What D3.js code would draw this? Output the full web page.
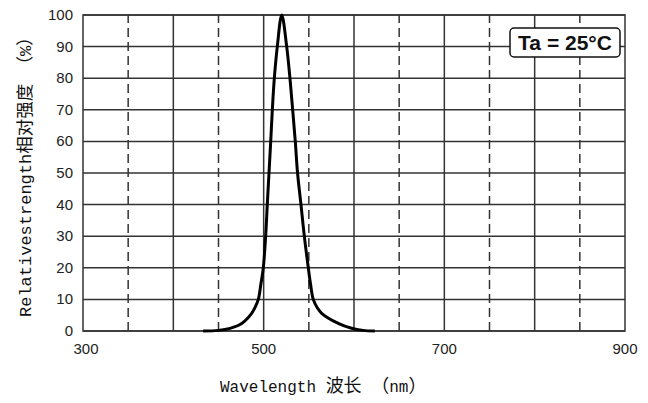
<!DOCTYPE html>
<html>
<head>
<meta charset="utf-8">
<script src="https://cdn.jsdelivr.net/npm/d3@7"></script>
<style>
  body { margin: 0; background: #fff; }
</style>
</head>
<body>
<script>
// spectrum
const wavelength = [433, 450, 462.7, 475.7, 486.7, 491, 494.1, 497, 499.6, 502.2, 504.0, 505.9, 507.8, 509.6, 511.8, 515.1, 520, 525.5, 529.1, 532.1, 535.0, 537.5, 541.3, 545.0, 549.4, 551.8, 554.9, 559.5, 564.2, 582.6, 597.4, 610, 623];
const intensity = [0, 0.2, 0.85, 2.4, 5.6, 7.8, 10, 15, 20, 30, 40, 50, 60, 70, 80, 90, 100, 90, 80, 70, 60, 50, 40, 30, 20, 15, 10, 7.3, 5.6, 2.4, 0.85, 0.2, 0];
const xTicks = [300, 500, 700, 900];
const yTicks = [0, 10, 20, 30, 40, 50, 60, 70, 80, 90, 100];
const xGrid = [350, 400, 450, 500, 550, 600, 650, 700, 750, 800, 850];

const width = 648, height = 403;
const margin = { left: 83, right: 23, top: 15, bottom: 72 };

const svg = d3.select("body").append("svg")
  .attr("width", width).attr("height", height);

const x = d3.scaleLinear().domain([300, 900]).range([margin.left, width - margin.right]);
const y = d3.scaleLinear().domain([0, 100]).range([height - margin.bottom, margin.top]);

const gridColor = "#333";
const sans = "Liberation Sans, Arial, sans-serif";
const mono = "Liberation Mono, DejaVu Sans Mono, monospace";
const cjk = "Noto Sans CJK SC, sans-serif";

// horizontal grid
svg.append("g").selectAll("line").data(yTicks).enter().append("line")
  .attr("x1", x(300)).attr("x2", x(900))
  .attr("y1", d => y(d)).attr("y2", d => y(d))
  .attr("stroke", gridColor).attr("stroke-width", 1.5);

// vertical grid: solid on hundreds, dashed in between
svg.append("g").selectAll("line").data(xGrid).enter().append("line")
  .attr("x1", d => x(d)).attr("x2", d => x(d))
  .attr("y1", y(0)).attr("y2", y(100))
  .attr("stroke", gridColor).attr("stroke-width", 1.5)
  .attr("stroke-dasharray", d => d % 100 === 0 ? null : "9,5");

// frame
svg.append("rect")
  .attr("x", x(300)).attr("y", y(100))
  .attr("width", x(900) - x(300)).attr("height", y(0) - y(100))
  .attr("fill", "none").attr("stroke", gridColor).attr("stroke-width", 1.5);

// tick labels
svg.append("g").selectAll("text").data(yTicks).enter().append("text")
  .attr("x", x(300) - 10).attr("y", d => y(d) + 5)
  .attr("text-anchor", "end")
  .attr("font-family", sans).attr("font-size", 15).attr("fill", "#222")
  .text(d => d);

svg.append("g").selectAll("text").data(xTicks).enter().append("text")
  .attr("x", d => x(d) + (d === 300 ? 3 : 0)).attr("y", 354)
  .attr("text-anchor", "middle")
  .attr("font-family", sans).attr("font-size", 15).attr("fill", "#222")
  .text(d => d);

// curve
const pts = wavelength.map((w, i) => [w, intensity[i]]);
const line = d3.line()
  .x(d => x(d[0])).y(d => y(d[1]))
  .curve(d3.curveCatmullRom.alpha(0.5));

svg.append("path").datum(pts)
  .attr("d", line)
  .attr("fill", "none").attr("stroke", "#000")
  .attr("stroke-width", 3).attr("stroke-linejoin", "round");

// axis titles: latin in mono, CJK in a larger CJK face
const addParts = (sel, parts, latinSize, cjkSize) => {
  parts.forEach(p => {
    sel.append("tspan")
      .attr("font-family", p[1] ? cjk : mono)
      .attr("font-size", p[1] ? cjkSize : latinSize)
      .text(p[0]);
  });
};

const xTitle = svg.append("text")
  .attr("x", 220).attr("y", 392).attr("fill", "#111")
  .attr("xml:space", "preserve");
addParts(xTitle, [["Wavelength ", 0], ["波长", 1], [" ", 0], ["（", 1], ["nm", 0], ["）", 1]], 16, 18);

const yTitle = svg.append("text")
  .attr("transform", "translate(31,317) rotate(-90)").attr("fill", "#111")
  .attr("xml:space", "preserve");
addParts(yTitle, [["Relativestrength", 0], ["相对强度", 1], [" ", 0], ["（", 1], ["%", 0], ["）", 1]], 17, 17.5);

// temperature note
const note = svg.append("g");
note.append("rect")
  .attr("x", 510).attr("y", 28).attr("width", 110).attr("height", 29)
  .attr("rx", 4).attr("fill", "#fff").attr("stroke", "#111").attr("stroke-width", 1.5);
note.append("text")
  .attr("x", 565).attr("y", 50)
  .attr("text-anchor", "middle")
  .attr("font-family", sans)
  .attr("font-weight", "bold").attr("font-size", 21).attr("fill", "#111")
  .text("Ta = 25°C");
</script>
</body>
</html>
